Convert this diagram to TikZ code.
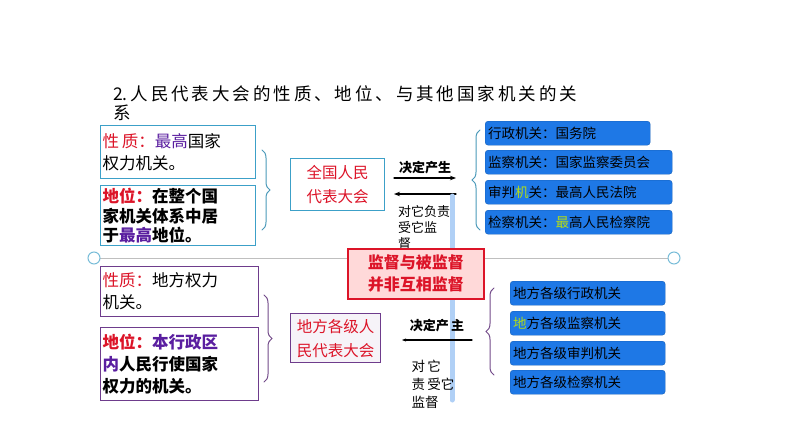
\documentclass[tikz,border=0pt]{standalone}
\usepackage{fontspec}
\setmainfont{Noto Sans CJK SC}
\usetikzlibrary{decorations.pathreplacing,arrows.meta}
\definecolor{boxcyan}{RGB}{60,160,200}
\definecolor{boxpurple}{RGB}{110,60,140}
\definecolor{txtred}{RGB}{220,20,40}
\definecolor{txtpurple}{RGB}{90,30,160}
\definecolor{orgblue}{RGB}{30,120,230}
\tikzset{
  textbox/.style={draw=#1,line width=1.2pt,fill=white,align=left,anchor=north west,
    font=\fontsize{16.5}{22}\selectfont,inner sep=2pt},
  centerbox/.style={draw=#1,line width=1.2pt,align=left,anchor=north west,text=txtred,
    font=\fontsize{15.5}{24}\selectfont,inner sep=2pt},
  organ/.style={fill=orgblue,draw=orgblue!80!black,rounded corners=3pt,anchor=north west,
    minimum height=24pt,text width=#1,align=left,font=\fontsize{13.5}{14}\selectfont,inner sep=3pt,text=black},
  bracket/.style={decorate,decoration={brace,amplitude=8pt},draw=boxcyan!80!gray,line width=1pt},
  label/.style={font=\fontsize{13}{16}\selectfont,align=left}
}
\begin{document}
\begin{tikzpicture}[x=1pt,y=-1pt,line cap=round]
  \useasboundingbox (0,0) rectangle (794,447);
  % title
  \node[anchor=west,font=\fontsize{17.5}{18}\selectfont,inner sep=0] (title) at (113,94)
    {2.\,人\,民\,代\,表\,大\,会\,的\,性\,质\,、\,地\,位\,、\,与\,其\,他\,国\,家\,机\,关\,的\,关};
  \node[anchor=west,font=\fontsize{17.5}{18}\selectfont,inner sep=0] (title2) at (113,113) {系};
  % upper half
  \node[textbox=boxcyan,text width=151pt,minimum height=53pt] (nature) at (100,125)
    {\textcolor{txtred}{性\,质：}\textcolor{txtpurple}{最高}国家\\权力机关。};
  \node[textbox=boxcyan,text width=151pt,minimum height=60pt,font=\bfseries\fontsize{16.5}{19.5}\selectfont] (status) at (100,185)
    {\textcolor{txtred}{地位：}在整个国\\家机关体系中居\\于\textcolor{txtpurple}{最高}地位。};
  \node[centerbox=boxcyan,minimum width=94pt,minimum height=52pt] (npc) at (290,158) {全国人民\\代表大会};
  \draw[bracket] (262,150) -- (262,230);
  \draw[bracket] (480,230) -- (480,130);
  \node[organ=159pt] (exec) at (485,121) {行政机关：国务院};
  \node[organ=181pt] (super) at (485,150) {监察机关：国家监察委员会};
  \node[organ=181pt] (court) at (485,180) {审判\textcolor{yellow!70!green}{机}关：最高人民法院};
  \node[organ=181pt] (procu) at (485,210) {检察机关：\textcolor{yellow!70!green}{最}高人民检察院};
  \coordinate (a1) at (394,178); \coordinate (b1) at (456,178);
  \coordinate (a2) at (394,194); \coordinate (b2) at (456,194);
  \draw[-{Stealth[length=6pt]},line width=1.2pt] (a1) -- node[above,font=\bfseries\fontsize{13}{13}\selectfont] {决定产生} (b1);
  \draw[-{Stealth[length=6pt]},line width=1.2pt] (b2) -- (a2);
  % divider and supervision bar
  \draw[gray!50,line width=0.8pt] (100,258) -- (668,258);
  \draw[boxcyan!70,line width=1pt] (94,258) circle (6);
  \draw[boxcyan!70,line width=1pt] (674,258) circle (6);
  \draw[orgblue!35,line width=5pt] (452,196) -- (452,400);
  \node[label] (duty1) at (424,228) {对它负责\\受它监\\督};
  \node[draw=txtred,line width=1.5pt,fill=pink!60,text=txtred,align=left,anchor=north west,
    font=\bfseries\fontsize{16}{22}\selectfont,minimum width=136pt,minimum height=50pt] (note) at (347,248)
    {监督与被监督\\并非互相监督};
  % lower half
  \node[textbox=boxpurple,text width=154pt,minimum height=50pt] (lnature) at (100,266)
    {\textcolor{txtred}{性质：}地方权力\\机关。};
  \node[textbox=boxpurple,text width=154pt,minimum height=73pt,font=\bfseries\fontsize{16.5}{22}\selectfont] (lstatus) at (100,327)
    {\textcolor{txtred}{地位：}\textcolor{txtpurple}{本行政区}\\\textcolor{txtpurple}{内}人民行使国家\\权力的机关。};
  \node[centerbox=boxpurple,minimum width=90pt,minimum height=49pt,fill=boxpurple!6] (local) at (290,313) {地方各级人\\民代表大会};
  \draw[bracket,draw=boxpurple!80!gray] (264,295) -- (264,382);
  \draw[bracket,draw=boxpurple!80!gray] (494,375) -- (494,288);
  \node[organ=149pt] (lexec) at (510,281) {地方各级行政机关};
  \node[organ=149pt] (lsuper) at (510,311) {\textcolor{yellow!70!green}{地}方各级监察机关};
  \node[organ=149pt] (lcourt) at (510,341) {地方各级审判机关};
  \node[organ=149pt] (lprocu) at (510,370) {地方各级检察机关};
  \coordinate (a3) at (402,340); \coordinate (b3) at (472,340);
  \node[font=\bfseries\fontsize{13}{13}\selectfont] (decide) at (437,326) {决定产\,主};
  \draw[-{Stealth[length=4pt]},line width=1.2pt] (b3) -- (a3);
  \node[label,font=\fontsize{13.5}{18}\selectfont] (duty2) at (433,384) {对\,它\\责\,受它\\监督};
\end{tikzpicture}
\end{document}
